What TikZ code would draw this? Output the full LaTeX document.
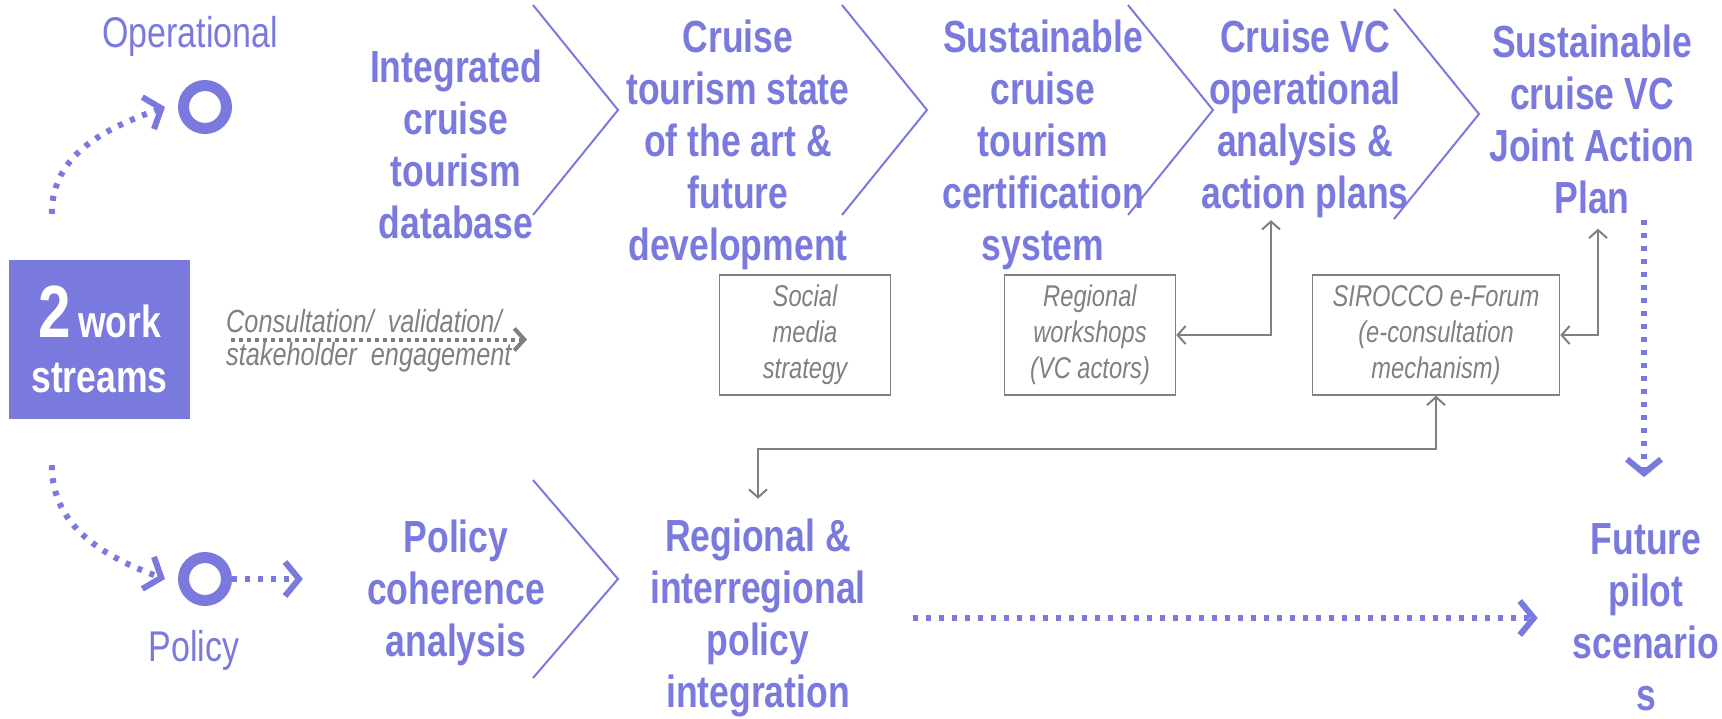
\documentclass[tikz,border=0pt]{standalone}
\usepackage{fontspec}
\setmainfont{Liberation Sans}
\newfontfamily\tightfont[FakeStretch=0.79]{Liberation Sans}
\usepackage{xcolor}
\usepackage{tikz}
\usetikzlibrary{arrows.meta,positioning,shapes}

\definecolor{streampurple}{RGB}{122,122,222}
\definecolor{notegray}{RGB}{128,128,128}

\begin{document}
\begin{tikzpicture}[x=1pt,y=-1pt,
        stage node/.style={align=center,inner sep=2pt,text=streampurple,
          font=\tightfont\bfseries\fontsize{45}{52}\selectfont},
        stream label/.style={text=streampurple,inner sep=0pt,
          font=\tightfont\fontsize{43}{48}\selectfont},
        ring node/.style={circle,draw=streampurple,line width=11pt,minimum size=43pt,inner sep=0pt},
        note box/.style={draw=notegray,line width=1.5pt,align=center,text=notegray,
          minimum width=171pt,minimum height=120pt,
          font=\tightfont\itshape\fontsize{30}{36}\selectfont},
        chevron line/.style={draw=streampurple,line width=2pt},
        flow arrow/.style={draw=streampurple,line width=6pt,dash pattern=on 5pt off 8pt,
          -{Straight Barb[length=14pt,width=34pt,line width=6pt]}},
        consult arrow/.style={draw=notegray,line width=4pt,dash pattern=on 4pt off 4pt,
          -{Straight Barb[length=10pt,width=22pt,line width=4pt]}},
        link edge/.style={draw=notegray,line width=2pt,
          {Straight Barb[length=8pt,width=18pt]}-{Straight Barb[length=8pt,width=18pt]}}]

      \useasboundingbox (0,0) rectangle (1722,718);

      % work streams box and the two streams
      \node[fill=streampurple,minimum width=181pt,minimum height=159pt,inner sep=0pt,
        text=white,align=center,font=\tightfont\bfseries\fontsize{45}{55}\selectfont]
        (0) at (99.5,339.5) {{\fontsize{74}{55}\selectfont 2}\,work\\streams};
      \node[ring node] (12) at (205,107) {};
      \node[ring node] (13) at (205,579) {};
      \node[stream label] (14) at (190,36) {Operational};
      \node[stream label] (15) at (194,650) {Policy};
      \node[anchor=west,align=left,inner sep=0pt,text=notegray,
        font=\tightfont\itshape\fontsize{32}{33}\selectfont]
        (16) at (226,341) {Consultation/\ \ validation/\\stakeholder\ \ engagement};
      \coordinate (17) at (527,339.5);

      % stages
      \node[stage node] (1) at (456,144) {Integrated\\cruise\\tourism\\database};
      \node[stage node] (2) at (738,145) {Cruise\\tourism state\\of the art \&\\future\\development};
      \node[stage node] (3) at (1043,145) {Sustainable\\cruise\\tourism\\certification\\system};
      \node[stage node] (4) at (1305,119) {Cruise VC\\operational\\analysis \&\\action plans};
      \node[stage node] (5) at (1592,119) {Sustainable\\cruise VC\\Joint Action\\Plan};
      \node[stage node] (6) at (456,593) {Policy\\coherence\\analysis};
      \node[stage node] (7) at (758,618) {Regional \&\\interregional\\policy\\integration};
      \node[stage node] (8) at (1646,617) {Future\\pilot\\scenario\\s};

      % supporting actions
      \node[note box] (9) at (805,335) {Social\\media\\strategy};
      \node[note box] (10) at (1090,335) {Regional\\workshops\\(VC actors)};
      \node[note box,minimum width=247pt] (11) at (1436,335) {SIROCCO e-Forum\\(e-consultation\\mechanism)};

      % chevrons
      \foreach \cx/\cy/\ch in {533/5/105, 842/5/105, 1128/5/105, 1394/9/105, 533/480/99}
        \draw[chevron line] (\cx,\cy) -- ++(85,\ch) -- ++(-85,\ch);

      % streams
      \draw[flow arrow] ([xshift=43pt,yshift=46pt]0.north west) to[out=90,in=200] ([xshift=-13pt]12.west);
      \draw[flow arrow] ([xshift=43pt,yshift=-46pt]0.south west) to[out=-90,in=160] ([xshift=-13pt]13.west);
      \draw[flow arrow,shorten >=62pt] (13.east) -- (13.east -| 6.west);
      \draw[consult arrow,shorten <=41pt] (0.east) -- (17);
      \draw[flow arrow,shorten <=4pt,shorten >=44pt] ([xshift=-2pt]8.north |- 5.south) -- ([xshift=-2pt]8.north);
      \draw[flow arrow,shorten <=45pt,shorten >=33pt] (7.east) -- (7.east -| 8.west);

      % consultation links
      \draw[link edge] (10.east) -| ([xshift=-34pt]4.south);
      \draw[link edge] (11.east) -| ([xshift=6pt,yshift=-13pt]5.south);
      \draw[link edge] (11.south) -- ++(0,53) -| ([yshift=18pt]7.north);
    \end{tikzpicture}
\end{document}
